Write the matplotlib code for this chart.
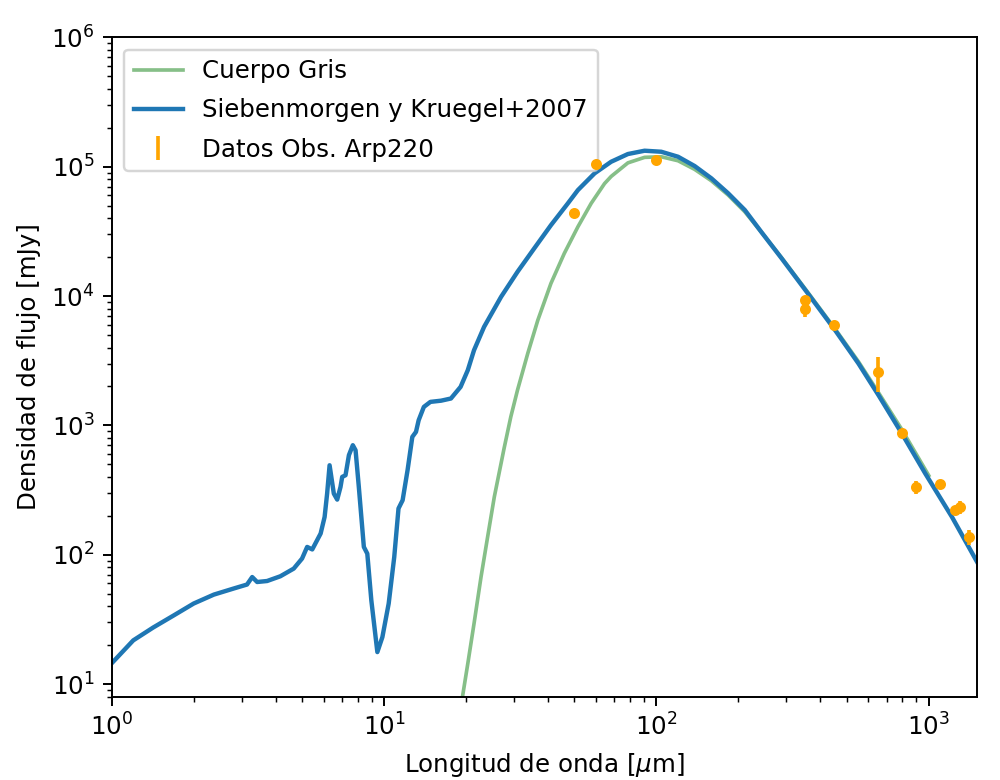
import numpy as np
import matplotlib
matplotlib.use("Agg")
import matplotlib.pyplot as plt

# Siebenmorgen & Kruegel 2007 model
sk_wave = [1.0, 1.20, 1.42, 1.69, 2.00, 2.37, 2.80, 3.14, 3.28, 3.42, 3.72, 4.16,
           4.66, 5.00, 5.22, 5.45, 5.85, 6.05, 6.18, 6.31, 6.54, 6.73, 6.92, 7.02,
           7.22, 7.43, 7.68, 7.86, 8.08, 8.43, 8.68, 8.98, 9.45, 9.86, 10.4, 10.9,
           11.3, 11.7, 12.2, 12.7, 13.1, 13.4, 14.0, 14.8, 16.2, 17.6, 19.1, 20.3,
           21.4, 23.3, 26.9, 30.9, 35.6, 41.0, 47.3, 51.5, 59.3, 68.2, 78.6, 90.5,
           104.2, 120.1, 138.2, 159.2, 183.5, 211.2, 243, 288, 356, 453, 552, 654,
           797, 971, 1217, 1505]
sk_flux = [14.5, 21.8, 27.4, 34.0, 42.0, 49.2, 54.8, 58.9, 67.3, 61.6, 62.7, 68.2,
           78.2, 93.5, 115, 110, 146, 196, 297, 492, 297, 267, 334, 400,
           412, 589, 703, 643, 334, 115, 102, 44.5, 17.7, 23.1, 42, 96.1,
           228, 264, 451, 815, 891, 1097, 1390, 1520, 1553, 1614, 1985, 2673,
           3816, 5780, 9860, 15380, 23350, 35300, 52000, 65900, 88800, 109100, 125200, 132800,
           130400, 119300, 101100, 81200, 62200, 46200, 31200, 19600, 10800, 5450, 3010, 1712,
           865, 425, 196, 88]

# gray body
gb_wave = [19.4, 20.3, 21.4, 22.7, 24.0, 25.4, 27.6, 29.2, 30.9, 33.7, 36.7, 41.0,
           45.9, 51.5, 57.6, 64.5, 68.2, 78.6, 90.5, 104.2, 120.1, 138.2, 159.2, 183.5,
           211.2, 243, 288, 356, 453, 552, 654, 797, 1000]
gb_flux = [7.94, 14.4, 29.4, 67.3, 137, 280, 667, 1164, 1872, 3597, 6510, 12520,
           21360, 34300, 52000, 74000, 84000, 107000, 118000, 119300, 111100, 95300, 77800, 60300,
           44800, 31200, 19800, 11000, 5570, 3110, 1791, 927, 410]

# observed Arp220 data
obs_wave = [50, 60, 100, 350, 350, 450, 650, 800, 900, 1100, 1250, 1300, 1400]
obs_flux = [43500, 104000, 112000, 9300, 7900, 6000, 2600, 880, 334, 351, 221, 234, 137]
obs_err = [1500, 3000, 3000, 700, 1000, 300, 800, 40, 38, 15, 10, 28, 19]

fig = plt.figure(figsize=(1000/176, 780/176), dpi=176)
ax = fig.add_axes([0.1117, 0.1068, 0.865, 0.8454])

ax.plot(gb_wave, gb_flux, color='#86bf88', lw=1.5, label='Cuerpo Gris')
ax.plot(sk_wave, sk_flux, color='#1f77b4', lw=1.8, label='Siebenmorgen y Kruegel+2007')
ax.errorbar(obs_wave, obs_flux, yerr=obs_err, fmt='none', ecolor='orange',
            elinewidth=1.5, label='Datos Obs. Arp220')
ax.plot(obs_wave, obs_flux, 'o', color='orange', ms=3.5, zorder=6)

ax.set_xscale('log')
ax.set_yscale('log')
ax.set_xlim(1, 1500)
ax.set_ylim(8, 1e6)
ax.set_xlabel(r'Longitud de onda [$\mu$m]')
ax.set_ylabel('Densidad de flujo [mJy]')
ax.legend(loc='upper left', labelspacing=0.62)

fig.savefig('out.png', dpi=176)
